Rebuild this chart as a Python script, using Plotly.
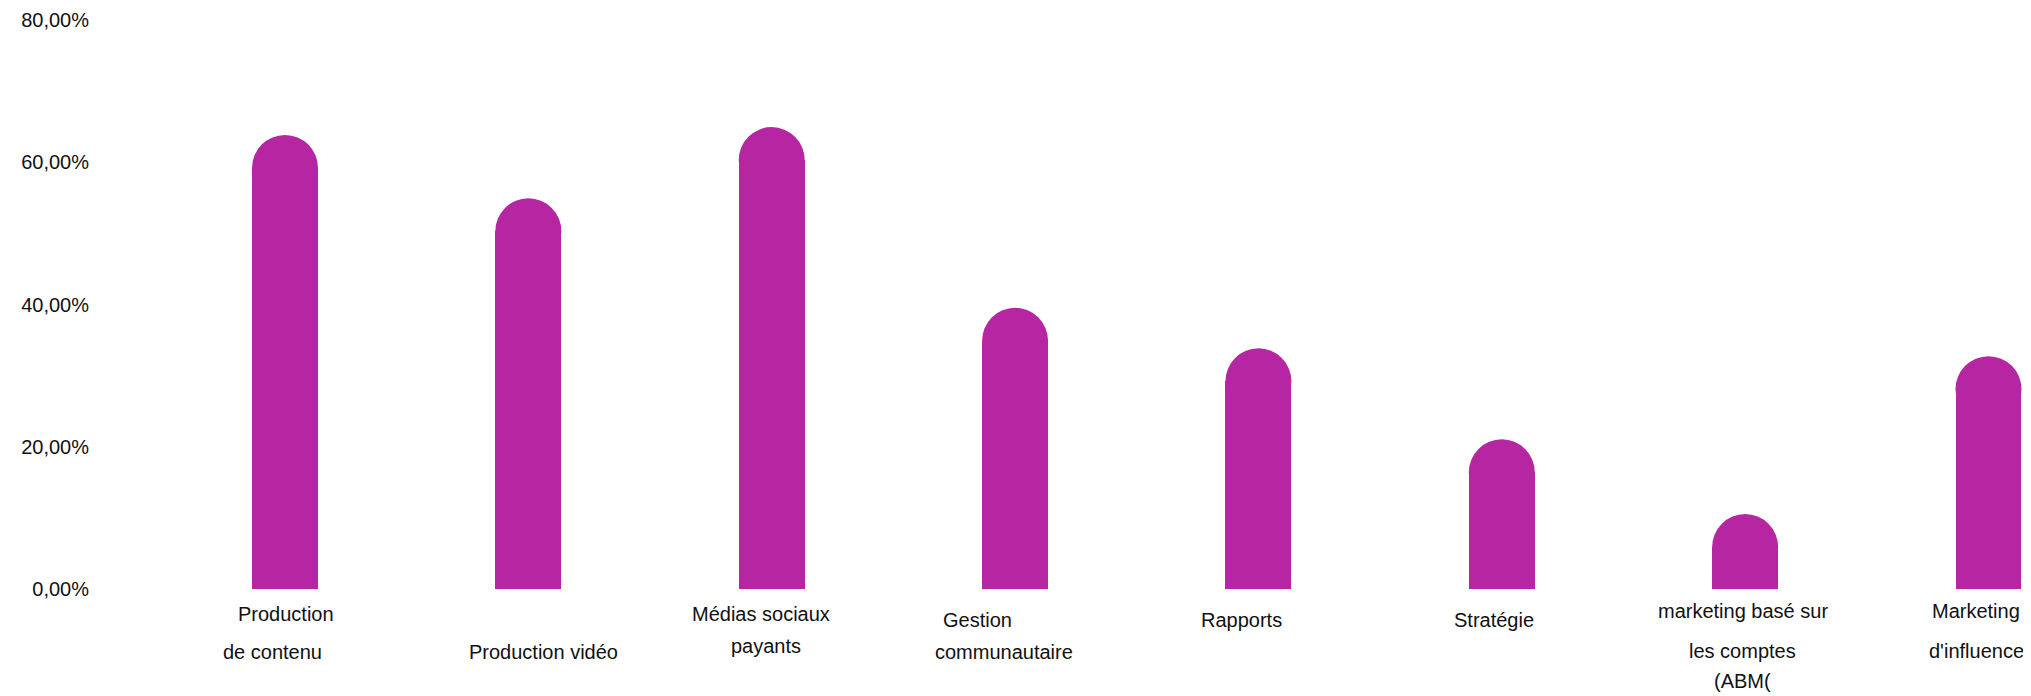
import plotly.graph_objects as go

categories = ["Production de contenu", "Production vidéo", "Médias sociaux payants",
              "Gestion communautaire", "Rapports", "Stratégie",
              "marketing basé sur les comptes (ABM(", "Marketing d'influence"]
values = [59.2, 50.3, 60.3, 34.9, 29.2, 16.4, 5.9, 28.1]
label_lines = [
    ["Production", "de contenu"],
    ["", "Production vidéo"],
    ["Médias sociaux", "payants"],
    ["Gestion", "communautaire"],
    ["Rapports"],
    ["Stratégie"],
    ["marketing basé sur", "les comptes", "(ABM("],
    ["Marketing", "d'influence"],
]
y_ticks = [0, 20, 40, 60, 80]
y_ticktext = [f"{v:.2f}".replace(".", ",") + "%" for v in y_ticks]

# layout offsets for label lines (px): (xshift, yshift) per line
label_offsets = [
    [(1, -25), (-13, -63)],
    [(0, -25), (15, -63)],
    [(-11, -25), (-6, -57)],
    [(-38, -31), (-11, -63)],
    [(-17, -31)],
    [(-8, -31)],
    [(-2, -22), (-3, -62), (-3, -92)],
    [(-13, -22), (-12, -62)],
]

color = "#B626A2"
bar_w = 0.271
FONT = "Arial, Liberation Sans, sans-serif"

x_idx = list(range(len(categories)))

fig = go.Figure()
fig.add_trace(go.Bar(x=x_idx, y=values, width=bar_w, marker=dict(color=color, line=dict(width=0)),
                     hoverinfo="skip"))
fig.add_trace(go.Scatter(x=x_idx, y=values, mode="markers", cliponaxis=False,
                         marker=dict(size=66, color=color, line=dict(width=0), symbol="circle"),
                         hoverinfo="skip"))

annotations = []
for i, (lines, offs) in enumerate(zip(label_lines, label_offsets)):
    for line, (dx, dy) in zip(lines, offs):
        if not line:
            continue
        annotations.append(dict(x=i, xref="x", y=0, yref="paper", text=line, showarrow=False,
                                xanchor="center", yanchor="middle", xshift=dx, yshift=dy,
                                font=dict(family=FONT, size=20, color="#111111")))

fig.update_layout(
    width=2031, height=696,
    margin=dict(l=82, r=0, t=12, b=115),
    paper_bgcolor="white", plot_bgcolor="white",
    showlegend=False,
    font=dict(family=FONT, size=20, color="#111111"),
    annotations=annotations,
    bargap=0,
)
fig.update_xaxes(range=[-0.8013, 7.2075], showticklabels=False, showgrid=False, zeroline=False,
                 showline=False, ticks="")
fig.update_yaxes(range=[0, 80], tickvals=y_ticks, ticktext=y_ticktext,
                 showgrid=False, zeroline=False, showline=False, ticks="",
                 tickfont=dict(family=FONT, size=20, color="#111111"))

fig.write_html("out.html")
